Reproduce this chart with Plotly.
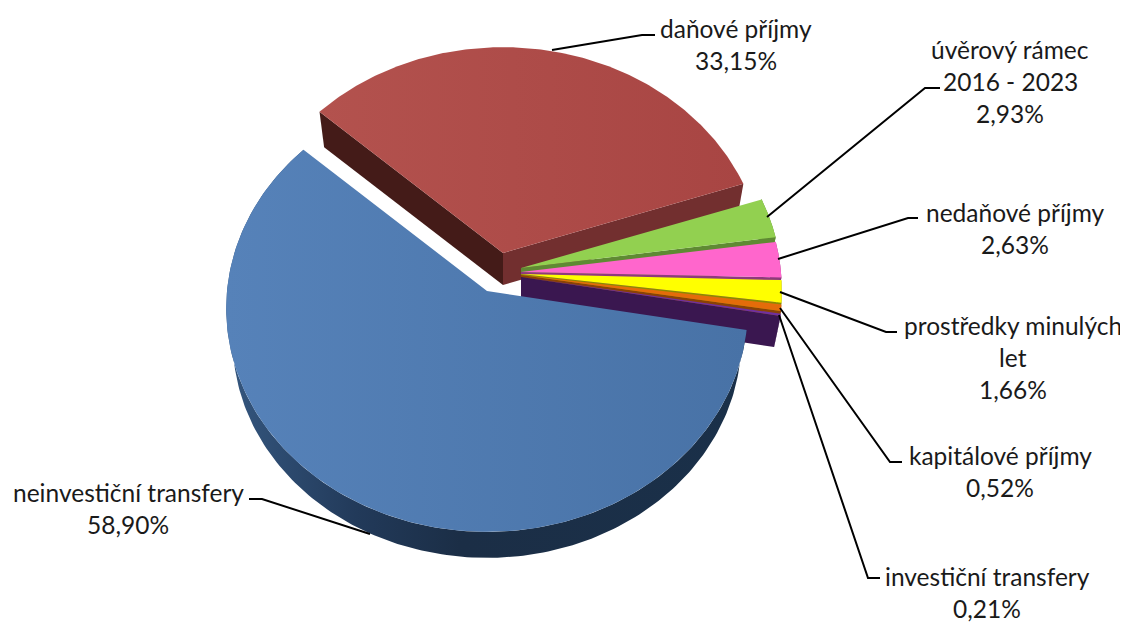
import numpy as np
import plotly.graph_objects as go

# --- data ---
names = ["neinvestiční transfery", "daňové příjmy", "úvěrový rámec\n2016 - 2023", "nedaňové příjmy",
         "prostředky minulých\nlet", "kapitálové příjmy", "investiční transfery"]
values = [58.90, 33.15, 2.93, 2.63, 1.66, 0.52, 0.21]

# --- style / geometry ---
top_colors = [["#5682b9", "#4872a6"], ["#b3524e", "#a84543"], ["#92d050", "#92d050"], ["#ff66cc", "#ff66cc"],
              ["#ffff00", "#ffff00"], ["#e46c0a", "#e46c0a"], ["#7030a0", "#7030a0"]]
wall_colors = ["#1b2f48", "#722f2f", "#5f8a33", "#8e3a7c", "#8a8a00", "#8a4206", "#3a1750"]
apex_x = [487, 503, 521, 521, 521, 521, 521]
apex_y = [291, 253, 268, 272, 274, 275, 277]
START_DEG = -10.0
RX, RY, K, BOTTOM_SCALE, DEPTH = 260, 222, 0.0783, 0.975, 32
label_x = [128, 736, 1010, 1015, 1013, 1000, 987]
label_y = [492, 28, 49, 212, 325, 455, 576]
LINE_STEP = 32
leaders = [[(370, 534), (262, 499), (249, 499)], [(552, 50), (642, 35), (655, 35)],
           [(767, 217), (925, 88), (940, 88)], [(778, 259), (908, 218), (918, 218)],
           [(780, 292), (886, 332), (897, 332)], [(780, 308), (890, 462), (902, 462)],
           [(779, 315), (868, 578), (880, 578)]]
PAGE_MARGIN = 8


def project(angle, ax, ay, scale=1.0, drop=0.0):
    w = 1 + K * np.sin(angle)
    return ax + RX * scale * np.cos(angle) / w, ay - RY * scale * np.sin(angle) / w + drop


def poly(xs, ys, color, gradient=None):
    kw = dict(fillcolor=color)
    if gradient is not None:
        kw = dict(fillgradient=dict(type="horizontal", colorscale=gradient))
    return go.Scatter(x=xs, y=ys, mode="lines", fill="toself", line=dict(width=0, color=color),
                      hoverinfo="skip", showlegend=False, **kw)


fracs = np.array(values) / sum(values) * 2 * np.pi
ends = np.radians(START_DEG) - np.cumsum(fracs)
starts = ends + fracs

fig = go.Figure()
for i in [1, 2, 3, 4, 5, 6, 0]:
    ax, ay = apex_x[i], apex_y[i]
    arc = np.linspace(starts[i], ends[i], 200)
    tx, ty = project(arc, ax, ay)
    bx, by = project(arc, ax, ay, BOTTOM_SCALE, DEPTH)
    if i == 1:
        # two cut faces of the exploded slice
        fig.add_trace(poly([ax, tx[0], bx[0], ax], [ay, ty[0], by[0], ay + DEPTH], "#441b18"))
        fig.add_trace(poly([ax, tx[-1], bx[-1], ax], [ay, ty[-1], by[-1], ay + DEPTH], wall_colors[i]))
    elif i == 0:
        # outer wall, shaded from left to right
        fig.add_trace(poly(np.r_[tx, bx[::-1]], np.r_[ty, by[::-1]], wall_colors[i],
                           gradient=[[0, "#35577f"], [0.25, "#223a5a"], [0.45, "#1b2e46"], [1, "#1a3049"]]))
    else:
        fig.add_trace(poly(np.r_[tx, bx[::-1]], np.r_[ty, by[::-1]], wall_colors[i]))
        fig.add_trace(poly([ax, tx[-1], bx[-1], ax], [ay, ty[-1], by[-1], ay + DEPTH], wall_colors[i]))
    c0, c1 = top_colors[i]
    fig.add_trace(poly(np.r_[ax, tx, ax], np.r_[ay, ty, ay], c0, gradient=[[0, c0], [1, c1]]))

for pts in leaders:
    fig.add_trace(go.Scatter(x=[p[0] for p in pts], y=[p[1] for p in pts], mode="lines",
                             line=dict(color="#000000", width=2), hoverinfo="skip", showlegend=False))

annotations = []
for name, v, x, y in zip(names, values, label_x, label_y):
    lines = name.split("\n") + [f"{v:.2f}".replace(".", ",") + "%"]
    for j, text in enumerate(lines):
        annotations.append(dict(x=x, y=y + j * LINE_STEP, xref="x", yref="y", text=text, showarrow=False,
                                xanchor="center", yanchor="middle",
                                font=dict(family="Lato", size=24.5, color="#1a1a1a")))

fig.update_layout(width=1128 - PAGE_MARGIN, height=624 - PAGE_MARGIN, margin=dict(l=0, r=0, t=0, b=0),
                  paper_bgcolor="white", plot_bgcolor="white", showlegend=False, annotations=annotations,
                  xaxis=dict(range=[PAGE_MARGIN, 1128], visible=False, fixedrange=True),
                  yaxis=dict(range=[624, PAGE_MARGIN], visible=False, fixedrange=True))
fig.write_html("out.html", config={"displayModeBar": False})
